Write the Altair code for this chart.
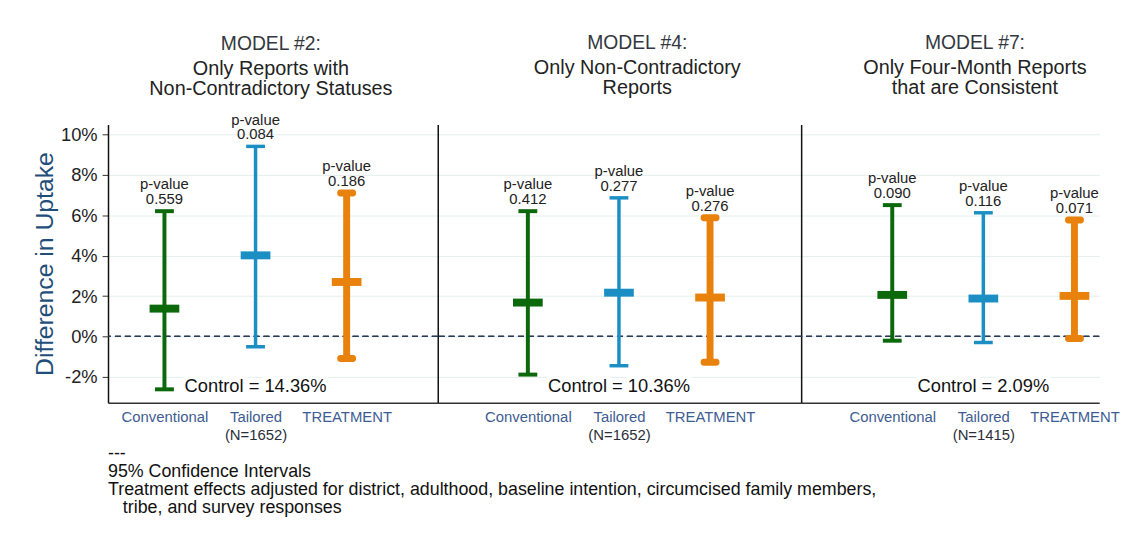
import altair as alt
import pandas as pd

# ---------------- data ----------------
arms = ["Conventional", "Tailored", "TREATMENT"]
model_titles = ["MODEL #2:", "MODEL #4:", "MODEL #7:"]
model_subtitles = [
    ["Only Reports with", "Non-Contradictory Statuses"],
    ["Only Non-Contradictory", "Reports"],
    ["Only Four-Month Reports", "that are Consistent"],
]
estimates = [[1.38, 4.02, 2.70], [1.68, 2.17, 1.93], [2.06, 1.88, 2.01]]
lower = [[-2.62, -0.51, -1.09], [-1.89, -1.45, -1.28], [-0.21, -0.30, -0.10]]
upper = [[6.21, 9.42, 7.11], [6.21, 6.87, 5.88], [6.51, 6.13, 5.77]]
p_values = [["0.559", "0.084", "0.186"], ["0.412", "0.277", "0.276"], ["0.090", "0.116", "0.071"]]
controls = ["Control = 14.36%", "Control = 10.36%", "Control = 2.09%"]
sample_n = ["(N=1652)", "(N=1652)", "(N=1415)"]
y_ticks = [-2, 0, 2, 4, 6, 8, 10]
footnote = [
    "---",
    "95% Confidence Intervals",
    "Treatment effects adjusted for district, adulthood, baseline intention, circumcised family members,",
    "\u200b\u00a0\u00a0\u00a0tribe, and survey responses",
]

# ---------------- styling ----------------
FONT = "Liberation Sans"
colors = ["#0b680b", "#1b8fc4", "#e8820c"]
bar_widths = [4, 3.5, 7]
cap_radius = [0, 0, 3]
panel_widths = [333, 367, 301]
left_offsets = [57, 91, 92]
title_dx = [-2, 18, 25]
title_offset = [13, 26, 26]
STEP = 92
HEIGHT = 281
y_domain = [-3.28, 10.51]


def panel(i):
    W = panel_widths[i]
    pad = (W / STEP - 2) / 2
    align = left_offsets[i] / (W - 2 * STEP)
    df = pd.DataFrame({
        "arm": arms,
        "est": estimates[i],
        "lo": lower[i],
        "hi": upper[i],
        "p": [["p-value", v] for v in p_values[i]],
    })
    first = i == 0
    x = alt.X(
        "arm:N",
        sort=arms,
        scale=alt.Scale(type="point", domain=arms, padding=pad, align=align),
        axis=alt.Axis(
            title=sample_n[i], titleX=left_offsets[i] + STEP, titleFontSize=15,
            titleFontWeight="normal", titleColor="#2b2f3a", titlePadding=3,
            labelAngle=0, labelFontSize=15, labelColor="#3e5c92", labelPadding=7,
            ticks=False, domainColor="#333333", domainWidth=1.5, grid=False,
        ),
    )
    yax = dict(values=y_ticks, labelExpr="datum.value + '%'", grid=True,
               gridColor="#e4eeee", gridWidth=1, domainColor="#111111", domainWidth=1.5)
    if first:
        yax.update(title="Difference in Uptake", titleFontSize=25, titleFontWeight="normal",
                   titleColor="#1f4e79", titlePadding=3, labelFontSize=18.5, labelColor="#222222",
                   labelPadding=5, tickSize=6, tickColor="#333333")
    else:
        yax.update(title="", labels=False, ticks=False)
    y_scale = alt.Scale(domain=y_domain, nice=False, zero=False)
    base = alt.Chart(df)

    layers = []
    layers.append(
        base.mark_rule(strokeDash=[6, 4], color="#2b3a55", strokeWidth=1.2).encode(
            y=alt.datum(0, scale=y_scale, axis=alt.Axis(**yax), type="quantitative")
        )
    )
    for j, arm in enumerate(arms):
        sub = base.transform_filter(alt.datum.arm == arm)
        c = colors[j]
        w = bar_widths[j]
        layers.append(sub.mark_rule(color=c, strokeWidth=w).encode(
            x=x, y=alt.Y("lo:Q", scale=y_scale), y2="hi:Q"))
        caps = dict(color=c, thickness=w, size=19, opacity=1)
        if cap_radius[j]:
            caps["cornerRadius"] = cap_radius[j]
        layers.append(sub.mark_tick(**caps).encode(x=x, y=alt.Y("lo:Q", scale=y_scale)))
        layers.append(sub.mark_tick(**caps).encode(x=x, y=alt.Y("hi:Q", scale=y_scale)))
        layers.append(sub.mark_tick(color=c, thickness=8, size=30, opacity=1).encode(
            x=x, y=alt.Y("est:Q", scale=y_scale)))
    layers.append(base.mark_text(fontSize=15, baseline="bottom", dy=-19, lineHeight=15,
                                 color="#222222").encode(
        x=x, y=alt.Y("hi:Q", scale=y_scale), text="p"))
    ctrl = alt.Chart(pd.DataFrame({"t": [controls[i]]}))
    for halo in (True, False):
        kw = dict(fontSize=18.5, baseline="bottom", dy=-7)
        if halo:
            kw.update(color="white", stroke="white", strokeWidth=10, strokeJoin="round")
        else:
            kw.update(color="#111111")
        layers.append(ctrl.mark_text(**kw).encode(
            x=alt.datum("Tailored"), y=alt.datum(y_domain[0]), text="t:N"))

    return alt.layer(*layers).properties(
        width=W, height=HEIGHT,
        title=alt.TitleParams(
            text=model_titles[i], subtitle=model_subtitles[i], fontSize=19.5,
            subtitleFontSize=20, fontWeight="normal", color="#333840",
            subtitleColor="#222222", anchor="middle", dx=title_dx[i],
            offset=title_offset[i], subtitlePadding=5, subtitleLineHeight=20,
            font=FONT, subtitleFont=FONT, frame="group",
        ),
    )


chart = alt.hconcat(panel(0), panel(1), panel(2), spacing=0, bounds="flush").properties(
    title=alt.TitleParams(text=footnote, orient="bottom", anchor="start", fontSize=18,
                          fontWeight="normal", lineHeight=18, color="#111111", offset=3,
                          dx=76, font=FONT),
    padding={"left": 24, "top": 22, "right": 0, "bottom": 5},
).configure(font=FONT).configure_view(strokeOpacity=0)

chart.save("out.html", embed_options={"renderer": "svg", "actions": False})
